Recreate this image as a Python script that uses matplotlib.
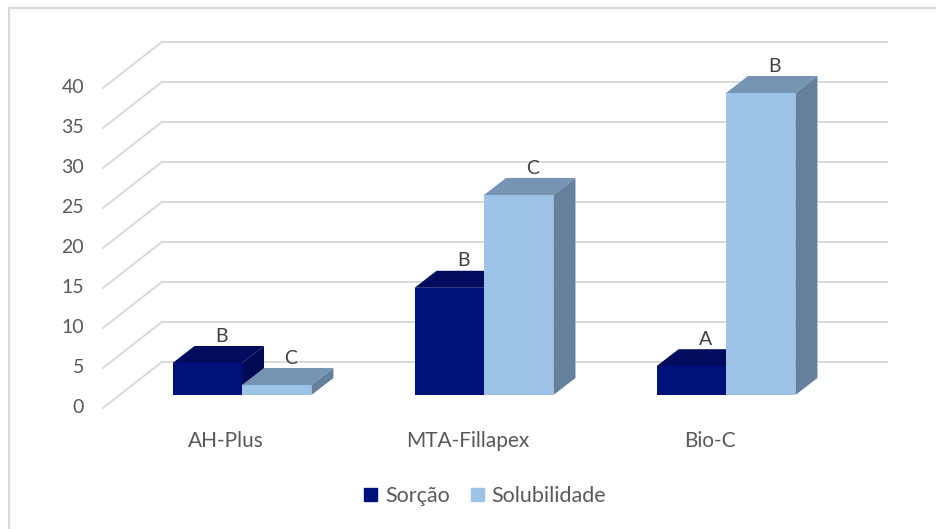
import matplotlib
matplotlib.use("Agg")
import matplotlib.pyplot as plt
from matplotlib.patches import Patch
from matplotlib.lines import Line2D

plt.rcParams['font.family'] = ['Lato', 'DejaVu Sans']

# data
categories = ['AH-Plus', 'MTA-Fillapex', 'Bio-C']
sorcao = [4.0, 13.4, 3.6]
solubilidade = [1.25, 25.0, 37.75]
sorcao_letters = ['B', 'B', 'A']
solub_letters = ['C', 'C', 'B']
yticks = [0, 5, 10, 15, 20, 25, 30, 35, 40]

# colours (front, top, side)
c_sor = ('#00107a', '#000b5e', '#000a55')
c_sol = ('#9dc3e6', '#7694b4', '#64809c')
grid_c = '#d9d9d9'
txt_c = '#595959'
lbl_c = '#404040'

# pseudo-3d geometry (x in category units, y in value units)
W = 0.287                    # bar width
BDX, BDY = 0.091, 2.125      # bar depth
FDX, FDY = -0.068, -1.61     # floor front edge relative to bar front plane
KDX, KDY = 0.1755, 4.14      # back wall relative to bar front plane
XR = 2.669                   # right end of back wall

fig = plt.figure(figsize=(9.37, 5.29), dpi=100)
ax = fig.add_axes([0, 0, 1, 1])
ax.set_xlim(-1.0, 2.872)
ax.set_ylim(-16.75, 49.375)
ax.axis('off')

x_left_front = -0.574
for v in yticks:
    # back wall line
    ax.plot([x_left_front + KDX - FDX, XR], [v + KDY, v + KDY],
            color=grid_c, lw=1.4, solid_capstyle='butt', zorder=1)
    # side wall line
    ax.plot([x_left_front, x_left_front + KDX - FDX], [v + FDY, v + KDY],
            color=grid_c, lw=1.4, zorder=1)
    ax.text(-0.653, v + FDY, str(v), ha='right', va='center',
            fontsize=14, color=txt_c)


def box(x0, h, cols):
    x1 = x0 + W
    ax.fill([x0, x1, x1 + BDX, x0 + BDX], [h, h, h + BDY, h + BDY],
            color=cols[1], lw=0, zorder=2)
    ax.fill([x1, x1 + BDX, x1 + BDX, x1], [0, BDY, h + BDY, h],
            color=cols[2], lw=0, zorder=2)
    ax.bar(x0, h, width=W, align='edge', color=cols[0], lw=0, zorder=2)


for i in range(len(categories)):
    box(i - W, sorcao[i], c_sor)
    box(i, solubilidade[i], c_sol)
    ax.text(i - W / 2 + 0.058, sorcao[i] + BDY + 0.55, sorcao_letters[i],
            ha='center', va='baseline', fontsize=14, color=lbl_c, zorder=3)
    ax.text(i + W / 2 + 0.058, solubilidade[i] + BDY + 0.55, solub_letters[i],
            ha='center', va='baseline', fontsize=14, color=lbl_c, zorder=3)
    ax.text(i + FDX, -5.7, categories[i], ha='center', va='center',
            fontsize=15, color=txt_c)

handles = [Patch(color=c_sor[0], label='Sorção'),
           Patch(color=c_sol[0], label='Solubilidade')]
leg = fig.legend(handles=handles, loc='center', bbox_to_anchor=(0.518, 0.062),
                 ncol=2, frameon=False, fontsize=15.5, handlelength=0.6,
                 handleheight=0.6, handletextpad=0.35, columnspacing=1.0)
for t in leg.get_texts():
    t.set_color(txt_c)

# outer frame (cropped on right and bottom)
fig.add_artist(Line2D([9 / 937, 9 / 937], [0, 1 - 8 / 529], color=grid_c, lw=1.5))
fig.add_artist(Line2D([9 / 937, 1], [1 - 8 / 529, 1 - 8 / 529], color=grid_c, lw=1.5))

fig.savefig('out.png', dpi=100)
